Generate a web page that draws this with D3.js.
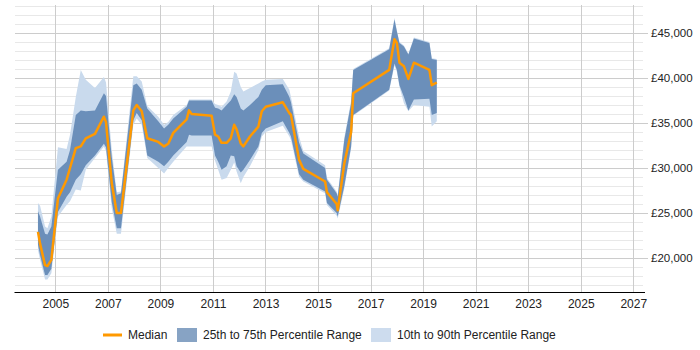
<!DOCTYPE html>
<html>
<head>
<meta charset="utf-8">
<script src="https://cdn.jsdelivr.net/npm/d3@7"></script>
<style>
  body { margin: 0; background: #fff; }
  svg { display: block; font-family: "Liberation Sans", Arial, sans-serif; }
</style>
</head>
<body>
<svg width="700" height="350"></svg>
<script>
// decimal years of each observation
const dates = [2004.34, 2004.42, 2004.61, 2004.70, 2004.85, 2005.10, 2005.43, 2005.56, 2005.78, 2005.97,
  2006.16, 2006.51, 2006.85, 2006.93, 2007.15, 2007.34, 2007.50, 2007.97, 2008.10, 2008.29,
  2008.50, 2008.92, 2009.14, 2009.30, 2009.49, 2010.00, 2010.09, 2010.19, 2010.95, 2011.08,
  2011.20, 2011.33, 2011.52, 2011.68, 2011.81, 2011.90, 2012.06, 2012.16, 2012.41, 2012.73,
  2012.86, 2013.01, 2013.66, 2013.91, 2013.97, 2014.28, 2014.44, 2015.27, 2015.34, 2015.71,
  2015.75, 2016.00, 2016.26, 2016.34, 2017.71, 2017.91, 2018.00, 2018.10, 2018.27, 2018.44,
  2018.65, 2019.24, 2019.33, 2019.52];

const p10 = [20900, 19800, 17600, 17600, 18300, 24600, 25900, 26300, 27600, 27500,
  29800, 31100, 32400, 31900, 25500, 22700, 22700, 34800, 35500, 34800,
  31100, 30000, 29400, 30000, 30700, 32400, 32400, 32400, 32400, 30800,
  29800, 28700, 28900, 29800, 30600, 29600, 28300, 29000, 30200, 32000,
  33500, 34000, 34700, 33500, 33100, 29000, 28500, 27200, 25900, 24700,
  24400, 27700, 32200, 35800, 38600, 41400, 40700, 39000, 37200, 36300,
  37000, 36800, 34600, 35200];

const p25 = [21500, 20300, 18100, 18100, 18800, 25100, 26800, 27300, 28700, 29300,
  30300, 31400, 32700, 32300, 26200, 23300, 23300, 35300, 36100, 35300,
  31400, 30700, 30200, 30700, 31400, 32900, 33700, 33600, 33600, 31400,
  30700, 29800, 30200, 31400, 31300, 30200, 29500, 29800, 30900, 32400,
  33900, 34400, 35200, 33900, 33500, 29300, 28700, 27400, 26100, 25000,
  24600, 28000, 32400, 35900, 38700, 41600, 40900, 39200, 37900, 36400,
  37600, 37700, 35900, 36100];

const median = [22900, 21600, 19200, 19100, 19800, 26600, 28700, 30000, 32200, 32400,
  33300, 33800, 35700, 35100, 28300, 25000, 25000, 36400, 37000, 36300,
  33300, 32900, 32400, 32700, 33900, 35400, 36400, 36000, 35800, 33700,
  33500, 32800, 32800, 33300, 34800, 34300, 32700, 32400, 33500, 34600,
  36300, 36800, 37300, 36100, 35900, 30900, 29900, 28500, 27300, 26000,
  25300, 30500, 34000, 38300, 40900, 44300, 43900, 41700, 41300, 39900,
  41700, 40900, 39200, 39500];

const p75 = [25200, 24600, 22700, 22600, 23500, 29800, 30700, 32000, 35900, 36400,
  36300, 36400, 38300, 38000, 31200, 27000, 27200, 39200, 39400, 38700,
  36600, 35200, 34400, 34800, 35500, 36800, 37500, 37500, 37500, 36700,
  36600, 36400, 37000, 37500, 38200, 37900, 36600, 36400, 37000, 37900,
  38700, 39200, 39300, 37900, 37300, 32800, 31600, 30000, 28700, 27200,
  26800, 33100, 37200, 40900, 43200, 46500, 45200, 43900, 43500, 42600,
  44400, 43900, 42100, 42000];

const p90 = [26100, 25800, 23500, 23300, 24600, 32300, 32100, 33700, 37900, 40900,
  39800, 38900, 40100, 39500, 32000, 27300, 27400, 40200, 40200, 39600,
  36900, 35700, 34800, 35100, 35900, 37000, 37600, 37600, 37600, 37100,
  37000, 36800, 37400, 38500, 40700, 40500, 39000, 38500, 38900, 39400,
  39600, 39800, 39900, 38700, 37900, 33500, 31900, 30300, 28900, 27400,
  27000, 33400, 37500, 41000, 43300, 46700, 45300, 44000, 43600, 42700,
  44500, 44000, 42200, 42100];

const yearTicks = d3.range(2005, 2028, 2);
const salaryTicks = [20000, 25000, 30000, 35000, 40000, 45000];
const minorTicks = d3.range(17000, 48001, 1000);

const legendItems = ['Median', '25th to 75th Percentile Range', '10th to 90th Percentile Range'];

const rows = dates.map((d, i) => ({
  date: d, p10: p10[i], p25: p25[i], median: median[i], p75: p75[i], p90: p90[i]
}));

const plot = { left: 15, right: 643, top: 5, bottom: 292 };

const svg = d3.select('svg');

const x = d3.scaleLinear()
  .domain([2003.466, 2027.37])
  .range([plot.left, plot.right]);

const y = d3.scaleLinear()
  .domain([16222, 48111])
  .range([plot.bottom, plot.top]);

// grid
const grid = svg.append('g');
grid.selectAll('line.minor')
  .data(minorTicks)
  .enter().append('line')
  .attr('class', 'minor')
  .attr('x1', plot.left).attr('x2', plot.right)
  .attr('y1', d => Math.round(y(d)) + 0.5).attr('y2', d => Math.round(y(d)) + 0.5)
  .attr('stroke', '#e8e8e8');

grid.selectAll('line.major')
  .data(salaryTicks)
  .enter().append('line')
  .attr('class', 'major')
  .attr('x1', plot.left).attr('x2', plot.right)
  .attr('y1', d => Math.round(y(d)) + 0.5).attr('y2', d => Math.round(y(d)) + 0.5)
  .attr('stroke', '#cccccc');

grid.selectAll('line.vert')
  .data(yearTicks)
  .enter().append('line')
  .attr('class', 'vert')
  .attr('x1', d => Math.round(x(d)) + 0.5).attr('x2', d => Math.round(x(d)) + 0.5)
  .attr('y1', plot.top).attr('y2', plot.bottom)
  .attr('stroke', '#cccccc');

// bands
const band = (lo, hi) => d3.area()
  .x(d => x(d.date))
  .y0(d => y(d[lo]))
  .y1(d => y(d[hi]));

svg.append('path')
  .datum(rows)
  .attr('fill', '#c9daed')
  .attr('d', band('p10', 'p90'));

svg.append('path')
  .datum(rows)
  .attr('fill', '#6b8fba')
  .attr('d', band('p25', 'p75'));

svg.append('path')
  .datum(rows)
  .attr('fill', 'none')
  .attr('stroke', '#ff9900')
  .attr('stroke-width', 2.5)
  .attr('stroke-linejoin', 'round')
  .attr('d', d3.line().x(d => x(d.date)).y(d => y(d.median)));

// axes
const xAxis = svg.append('g')
  .attr('transform', `translate(0,${plot.bottom})`)
  .call(d3.axisBottom(x).tickValues(yearTicks).tickFormat(d3.format('d')).tickSize(0).tickPadding(7));
xAxis.select('.domain').attr('stroke', '#000').attr('d', `M${plot.left - 0.5},0.5H${plot.right + 2}`);
xAxis.selectAll('text').attr('font-size', 12).attr('fill', '#222').attr('font-family', null);

const yAxis = svg.append('g')
  .attr('transform', `translate(${plot.right},0)`)
  .call(d3.axisRight(y).tickValues(salaryTicks).tickFormat(d => '£' + d3.format(',')(d)).tickSize(5).tickPadding(3));
yAxis.select('.domain').remove();
yAxis.selectAll('line').attr('stroke', '#cccccc');
yAxis.selectAll('text').attr('font-size', 11.5).attr('fill', '#222').attr('font-family', null);

// legend
const legend = svg.append('g').attr('font-size', 12).attr('fill', '#222');
legend.append('line')
  .attr('x1', 103).attr('x2', 122).attr('y1', 335).attr('y2', 335)
  .attr('stroke', '#ff9900').attr('stroke-width', 3);
legend.append('rect').attr('x', 177).attr('y', 328).attr('width', 20).attr('height', 14).attr('fill', '#87a3c4');
legend.append('rect').attr('x', 371).attr('y', 328).attr('width', 20).attr('height', 14).attr('fill', '#cddcee');
legend.selectAll('text')
  .data(legendItems)
  .enter().append('text')
  .attr('x', (d, i) => [128, 203, 397][i])
  .attr('y', 339)
  .text(d => d);
</script>
</body>
</html>
